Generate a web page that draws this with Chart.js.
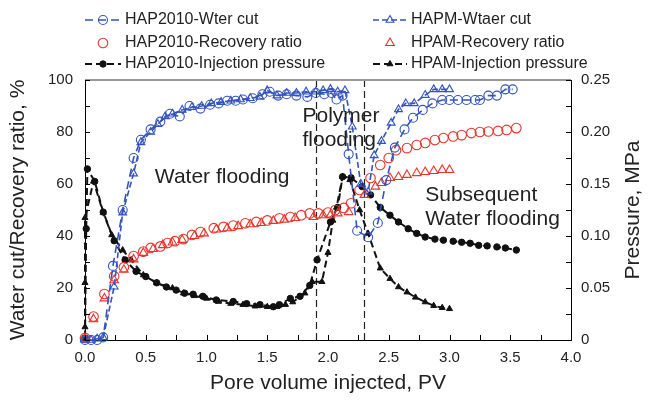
<!DOCTYPE html>
<html>
<head>
<meta charset="utf-8">
<script src="https://cdn.jsdelivr.net/npm/chart.js@4.4.0/dist/chart.umd.min.js"></script>
<style>
  html, body { margin: 0; padding: 0; background: #fff; }
</style>
</head>
<body>
<canvas id="chart" width="650" height="401"></canvas>
<script>
// water cut, %  (x = pore volume injected, PV)
const wcHapX = [0, 0.05, 0.1, 0.15, 0.23, 0.31, 0.4, 0.46, 0.54, 0.62, 0.7, 0.78, 0.86, 0.95, 1.03, 1.1, 1.17, 1.24, 1.3, 1.38, 1.46, 1.52, 1.59, 1.66, 1.74, 1.83, 1.9, 1.97, 2.03, 2.07, 2.12, 2.17, 2.24, 2.33, 2.41, 2.48, 2.55, 2.63, 2.7, 2.78, 2.86, 2.94, 3.0, 3.07, 3.14, 3.21, 3.25, 3.32, 3.39, 3.46, 3.52];
const wcHapY = [0, 0, 0, 1, 28.5, 50, 70, 77, 81, 84, 87, 86, 90, 89, 90.5, 91, 92, 92, 92.5, 93, 94.5, 95.5, 94, 94.5, 94, 93.5, 95, 94.5, 95, 92.5, 94, 71.5, 42, 39.5, 45, 61.5, 74, 81, 85.5, 88.5, 91, 92.3, 92.3, 92.3, 92.3, 92.3, 92.3, 94, 94, 96.4, 96.4];
const wcHpamX = [0, 0.05, 0.1, 0.15, 0.24, 0.31, 0.4, 0.46, 0.54, 0.6, 0.66, 0.72, 0.8, 0.88, 0.96, 1.04, 1.12, 1.2, 1.28, 1.36, 1.44, 1.5, 1.58, 1.66, 1.74, 1.82, 1.9, 1.96, 2.02, 2.08, 2.14, 2.2, 2.27, 2.33, 2.38, 2.44, 2.52, 2.58, 2.64, 2.71, 2.8, 2.87, 2.94, 3.0];
const wcHpamY = [0, 0, 0.5, 1, 20.5, 49, 64, 76, 80, 83, 86, 87, 88.5, 89.5, 90, 91, 91.5, 92, 92.5, 93, 93.5, 96, 94, 95, 95, 95.5, 95.5, 96, 96.5, 95.5, 96, 82, 60, 57, 71, 76.5, 83.5, 88.7, 91, 91, 94.2, 96.4, 96.4, 96.4];

// recovery ratio, %
const rrHapX = [0, 0.07, 0.16, 0.24, 0.32, 0.4, 0.48, 0.54, 0.62, 0.68, 0.74, 0.81, 0.88, 0.95, 1.06, 1.14, 1.22, 1.32, 1.41, 1.5, 1.6, 1.69, 1.78, 1.85, 1.92, 2.0, 2.06, 2.13, 2.19, 2.26, 2.35, 2.43, 2.5, 2.56, 2.65, 2.73, 2.8, 2.88, 2.95, 3.03, 3.1, 3.18, 3.25, 3.32, 3.4, 3.47, 3.55];
const rrHapY = [0.8, 9, 17.7, 24.5, 28, 32.3, 34, 35.4, 36, 37.3, 38, 38.8, 40.4, 41.5, 43, 43.5, 44, 44.9, 45.4, 46, 46.8, 47.3, 48, 48.7, 48.7, 49, 50, 50.8, 52.6, 57.7, 62.3, 67.3, 70, 73, 73.8, 75, 75.8, 76.9, 77.7, 78.3, 78.8, 79.6, 80, 80.2, 80.4, 80.8, 81.5];
const rrHpamX = [0, 0.07, 0.16, 0.24, 0.32, 0.4, 0.48, 0.56, 0.64, 0.72, 0.8, 0.9, 0.98, 1.08, 1.17, 1.26, 1.36, 1.45, 1.55, 1.64, 1.73, 1.88, 1.96, 2.02, 2.08, 2.17, 2.3, 2.39, 2.44, 2.51, 2.58, 2.65, 2.73, 2.8, 2.87, 2.94, 3.0];
const rrHpamY = [0.5, 8, 16, 23, 27, 31, 33.5, 35, 36.5, 37.5, 38.5, 40, 41, 42.5, 43, 43.8, 44.5, 45, 45.8, 46.3, 46.9, 47.3, 48, 48, 48.7, 49.2, 55.8, 59, 60.4, 62.3, 62.7, 63.5, 64.2, 64.6, 65, 65.4, 65.4];

// injection pressure, MPa
const prHapX = [0, 0.01, 0.02, 0.08, 0.15, 0.24, 0.33, 0.42, 0.5, 0.59, 0.67, 0.75, 0.82, 0.89, 0.97, 1.08, 1.22, 1.33, 1.44, 1.55, 1.6, 1.69, 1.77, 1.85, 1.91, 2.02, 2.08, 2.12, 2.19, 2.28, 2.35, 2.43, 2.51, 2.58, 2.66, 2.73, 2.8, 2.88, 2.95, 3.03, 3.1, 3.17, 3.24, 3.31, 3.39, 3.46, 3.55];
const prHapY = [0.002, 0.107, 0.1645, 0.1525, 0.123, 0.0955, 0.077, 0.066, 0.061, 0.055, 0.051, 0.048, 0.045, 0.044, 0.042, 0.0385, 0.037, 0.035, 0.034, 0.032, 0.034, 0.04, 0.042, 0.0525, 0.077, 0.1135, 0.1275, 0.157, 0.156, 0.1475, 0.1395, 0.1275, 0.12, 0.1135, 0.107, 0.1025, 0.099, 0.097, 0.096, 0.095, 0.094, 0.093, 0.091, 0.0905, 0.0895, 0.0885, 0.0865];
const prHpamX = [0, 0, 0, 0, 0.07, 0.15, 0.22, 0.31, 0.38, 0.48, 0.59, 0.72, 0.81, 0.9, 1.0, 1.1, 1.2, 1.3, 1.4, 1.5, 1.58, 1.65, 1.71, 1.81, 1.87, 1.95, 2.0, 2.04, 2.07, 2.12, 2.18, 2.26, 2.33, 2.43, 2.51, 2.58, 2.65, 2.72, 2.8, 2.87, 2.94, 3.0];
const prHpamY = [0.0025, 0.0125, 0.055, 0.1175, 0.1525, 0.1225, 0.101, 0.0865, 0.077, 0.0625, 0.055, 0.05, 0.045, 0.0425, 0.04, 0.037, 0.035, 0.034, 0.0325, 0.032, 0.032, 0.034, 0.0365, 0.045, 0.056, 0.056, 0.084, 0.115, 0.1275, 0.157, 0.154, 0.125, 0.1025, 0.069, 0.059, 0.051, 0.046, 0.041, 0.0365, 0.033, 0.031, 0.030];

// phase boundaries, PV
const phaseLines = [1.9, 2.3];

const BLUE = '#3353bd';
const RED = '#e8342a';
const BLACK = '#111';
const FONT = 'Arial, "Liberation Sans", sans-serif';

function pts(xs, ys) {
    return xs.map((x, i) => ({ x: x, y: ys[i] }));
}

// texts placed in data coordinates (x PV, y %)
const phaseNotes = [
    { text: 'Water flooding', x: 0.575, y: 62.7 },
    { text: 'Polymer', x: 1.79, y: 86 },
    { text: 'flooding', x: 1.79, y: 77 },
    { text: 'Subsequent', x: 2.8, y: 55.8 },
    { text: 'Water flooding', x: 2.8, y: 46.5 }
];

const frame = {
    id: 'frame',
    beforeDatasetsDraw(chart) {
        const { ctx, chartArea: a, scales } = chart;
        ctx.save();
        ctx.strokeStyle = '#222';
        ctx.lineWidth = 1.2;
        ctx.setLineDash([7, 4]);
        phaseLines.forEach(v => {
            const px = Math.round(scales.x.getPixelForValue(v)) + 0.5;
            ctx.beginPath();
            ctx.moveTo(px, a.top);
            ctx.lineTo(px, a.bottom);
            ctx.stroke();
        });
        ctx.restore();
    },
    afterDatasetsDraw(chart) {
        const { ctx, scales } = chart;
        ctx.save();
        ctx.fillStyle = '#222';
        ctx.font = '21px ' + FONT;
        ctx.textBaseline = 'middle';
        phaseNotes.forEach(n => {
            ctx.fillText(n.text, scales.x.getPixelForValue(n.x), scales.y.getPixelForValue(n.y));
        });
        ctx.restore();
    },
    afterDraw(chart) {
        const { ctx, chartArea: a, scales } = chart;
        ctx.save();
        // top border
        ctx.strokeStyle = '#999';
        ctx.lineWidth = 2;
        ctx.beginPath();
        ctx.moveTo(a.left, a.top);
        ctx.lineTo(a.right, a.top);
        ctx.stroke();
        // inside tick marks
        ctx.strokeStyle = '#000';
        ctx.lineWidth = 1;
        ctx.beginPath();
        scales.x.ticks.forEach(t => {
            const px = Math.round(scales.x.getPixelForValue(t.value)) + 0.5;
            ctx.moveTo(px, a.bottom);
            ctx.lineTo(px, a.bottom - 5);
        });
        scales.y.ticks.forEach(t => {
            const py = Math.round(scales.y.getPixelForValue(t.value)) + 0.5;
            ctx.moveTo(a.left, py);
            ctx.lineTo(a.left + 5, py);
        });
        scales.y1.ticks.forEach(t => {
            const py = Math.round(scales.y1.getPixelForValue(t.value)) + 0.5;
            ctx.moveTo(a.right, py);
            ctx.lineTo(a.right - 5, py);
        });
        ctx.stroke();

        // right axis title, reading bottom to top
        ctx.save();
        ctx.translate(633, (a.top + a.bottom) / 2);
        ctx.rotate(-Math.PI / 2);
        ctx.fillStyle = '#222';
        ctx.font = '21px ' + FONT;
        ctx.textAlign = 'center';
        ctx.textBaseline = 'middle';
        ctx.fillText('Pressure, MPa', 0, 0);
        ctx.restore();

        // legend, two columns of three
        const colLine = [[85, 121], [373, 407]];
        const colText = [125, 411];
        const rowY = [20, 43, 64];
        ctx.font = '16px ' + FONT;
        ctx.textBaseline = 'middle';
        chart.data.datasets.forEach((ds, i) => {
            const col = i % 2, row = Math.floor(i / 2);
            const [x0, x1] = colLine[col];
            const y = rowY[row];
            if (ds.showLine) {
                ctx.strokeStyle = ds.borderColor;
                ctx.lineWidth = ds.borderWidth;
                ctx.setLineDash(ds.borderDash || []);
                ctx.beginPath();
                ctx.moveTo(x0, y);
                ctx.lineTo(x1, y);
                ctx.stroke();
                ctx.setLineDash([]);
            }
            ctx.strokeStyle = ds.pointBorderColor;
            ctx.fillStyle = ds.pointBackgroundColor;
            ctx.lineWidth = ds.pointBorderWidth;
            Chart.helpers.drawPoint(ctx, {
                pointStyle: ds.pointStyle, radius: ds.pointRadius,
                borderWidth: ds.pointBorderWidth, rotation: 0
            }, (x0 + x1) / 2, y);
            ctx.fillStyle = '#222';
            ctx.fillText(ds.label, colText[col], y);
        });
        ctx.restore();
    }
};

const hollow = 'rgba(255,255,255,0)';

new Chart(document.getElementById('chart'), {
    type: 'scatter',
    data: {
        datasets: [
            {
                label: 'HAP2010-Wter cut', data: pts(wcHapX, wcHapY), yAxisID: 'y',
                showLine: true, borderColor: BLUE, borderWidth: 1.6, borderDash: [8, 5],
                pointStyle: 'circle', pointRadius: 4.5, pointBorderColor: BLUE,
                pointBackgroundColor: hollow, pointBorderWidth: 1.1
            },
            {
                label: 'HAPM-Wtaer cut', data: pts(wcHpamX, wcHpamY), yAxisID: 'y',
                showLine: true, borderColor: BLUE, borderWidth: 1.6, borderDash: [6, 3],
                pointStyle: 'triangle', pointRadius: 4.5, pointBorderColor: BLUE,
                pointBackgroundColor: hollow, pointBorderWidth: 1.1
            },
            {
                label: 'HAP2010-Recovery ratio', data: pts(rrHapX, rrHapY), yAxisID: 'y',
                showLine: false, borderColor: RED,
                pointStyle: 'circle', pointRadius: 4.8, pointBorderColor: RED,
                pointBackgroundColor: hollow, pointBorderWidth: 1.1
            },
            {
                label: 'HPAM-Recovery ratio', data: pts(rrHpamX, rrHpamY), yAxisID: 'y',
                showLine: false, borderColor: RED,
                pointStyle: 'triangle', pointRadius: 5, pointBorderColor: RED,
                pointBackgroundColor: hollow, pointBorderWidth: 1.1
            },
            {
                label: 'HAP2010-Injection pressure', data: pts(prHapX, prHapY), yAxisID: 'y1',
                showLine: true, borderColor: BLACK, borderWidth: 2, borderDash: [7, 4],
                pointStyle: 'circle', pointRadius: 3.2, pointBorderColor: BLACK,
                pointBackgroundColor: BLACK, pointBorderWidth: 1
            },
            {
                label: 'HPAM-Injection pressure', data: pts(prHpamX, prHpamY), yAxisID: 'y1',
                showLine: true, borderColor: BLACK, borderWidth: 2, borderDash: [7, 4],
                pointStyle: 'triangle', pointRadius: 3.5, pointBorderColor: BLACK,
                pointBackgroundColor: BLACK, pointBorderWidth: 1
            }
        ]
    },
    options: {
        responsive: false,
        animation: false,
        clip: false,
        layout: { padding: { top: 80, left: 0, right: 0, bottom: 0 } },
        plugins: {
            legend: { display: false },
            tooltip: { enabled: false }
        },
        scales: {
            x: {
                type: 'linear', min: 0, max: 4,
                afterFit: s => { s.height = 61; },
                grid: { display: false, drawTicks: false },
                border: { display: true, color: '#000', width: 1 },
                ticks: {
                    stepSize: 0.25, padding: 9, color: '#222',
                    font: { family: FONT, size: 15 },
                    callback: v => (Math.round(v * 100) % 50 === 0 ? v.toFixed(1) : '')
                },
                title: {
                    display: true, text: 'Pore volume injected, PV', color: '#222',
                    font: { family: FONT, size: 21 }, padding: { top: 0, bottom: 5 }
                }
            },
            y: {
                type: 'linear', position: 'left', min: 0, max: 100,
                afterFit: s => { s.width = 85; },
                grid: { display: false, drawTicks: false },
                border: { display: true, color: '#000', width: 1 },
                ticks: {
                    stepSize: 10, padding: 12, color: '#222',
                    font: { family: FONT, size: 15 },
                    callback: v => (v % 20 === 0 ? String(v) : '')
                },
                title: {
                    display: true, text: 'Water cut/Recovery ratio, %', color: '#222',
                    font: { family: FONT, size: 21 }, padding: { top: 6, bottom: 0 }
                }
            },
            y1: {
                type: 'linear', position: 'right', min: 0, max: 0.25,
                afterFit: s => { s.width = 79; },
                grid: { display: false, drawTicks: false },
                border: { display: true, color: '#000', width: 1 },
                ticks: {
                    stepSize: 0.025, padding: 10, color: '#222',
                    font: { family: FONT, size: 15 },
                    callback: v => {
                        const m = Math.round(v * 1000);
                        if (m % 50 !== 0) return '';
                        return m === 0 ? '0' : v.toFixed(2);
                    }
                },
                title: { display: false }
            }
        }
    },
    plugins: [frame]
});
</script>
</body>
</html>
